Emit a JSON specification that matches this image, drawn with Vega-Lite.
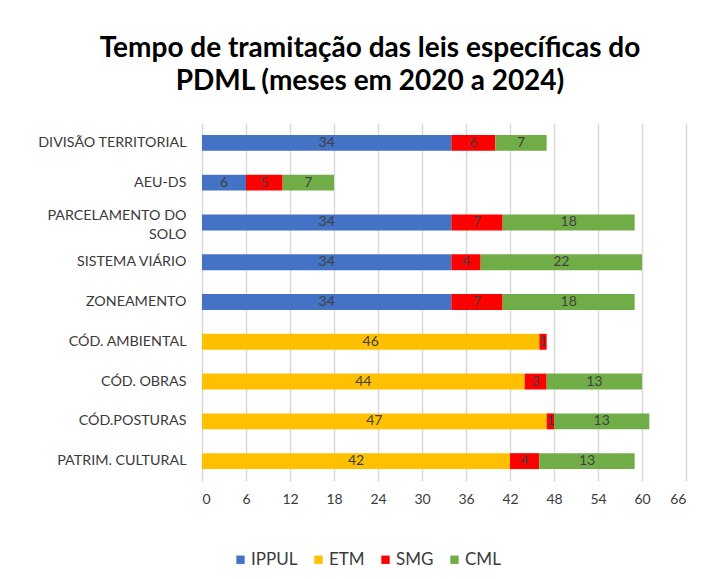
{
  "$schema": "https://vega.github.io/schema/vega-lite/v6.json",
  "autosize": {"type": "none"},
  "width": 484,
  "height": 358,
  "padding": {"left": 202, "top": 123, "right": 17, "bottom": 98},
  "background": "white",
  "config": {
    "font": "Lato",
    "view": {"stroke": null}
  },
  "title": {
    "text": ["Tempo de tramitação das leis específicas do", "PDML (meses em 2020 a 2024)"],
    "font": "Lato",
    "fontSize": 28,
    "fontWeight": "bold",
    "color": "#000000",
    "anchor": "middle",
    "dx": -74,
    "offset": 27,
    "lineHeight": 33
  },
  "data": {
    "values": [
      {"lei": "DIVISÃO TERRITORIAL", "orgao": "IPPUL", "ordem": 1, "meses": 34},
      {"lei": "DIVISÃO TERRITORIAL", "orgao": "SMG", "ordem": 3, "meses": 6},
      {"lei": "DIVISÃO TERRITORIAL", "orgao": "CML", "ordem": 4, "meses": 7},
      {"lei": "AEU-DS", "orgao": "IPPUL", "ordem": 1, "meses": 6},
      {"lei": "AEU-DS", "orgao": "SMG", "ordem": 3, "meses": 5},
      {"lei": "AEU-DS", "orgao": "CML", "ordem": 4, "meses": 7},
      {"lei": "PARCELAMENTO DO SOLO", "orgao": "IPPUL", "ordem": 1, "meses": 34},
      {"lei": "PARCELAMENTO DO SOLO", "orgao": "SMG", "ordem": 3, "meses": 7},
      {"lei": "PARCELAMENTO DO SOLO", "orgao": "CML", "ordem": 4, "meses": 18},
      {"lei": "SISTEMA VIÁRIO", "orgao": "IPPUL", "ordem": 1, "meses": 34},
      {"lei": "SISTEMA VIÁRIO", "orgao": "SMG", "ordem": 3, "meses": 4},
      {"lei": "SISTEMA VIÁRIO", "orgao": "CML", "ordem": 4, "meses": 22},
      {"lei": "ZONEAMENTO", "orgao": "IPPUL", "ordem": 1, "meses": 34},
      {"lei": "ZONEAMENTO", "orgao": "SMG", "ordem": 3, "meses": 7},
      {"lei": "ZONEAMENTO", "orgao": "CML", "ordem": 4, "meses": 18},
      {"lei": "CÓD. AMBIENTAL", "orgao": "ETM", "ordem": 2, "meses": 46},
      {"lei": "CÓD. AMBIENTAL", "orgao": "SMG", "ordem": 3, "meses": 1},
      {"lei": "CÓD. OBRAS", "orgao": "ETM", "ordem": 2, "meses": 44},
      {"lei": "CÓD. OBRAS", "orgao": "SMG", "ordem": 3, "meses": 3},
      {"lei": "CÓD. OBRAS", "orgao": "CML", "ordem": 4, "meses": 13},
      {"lei": "CÓD.POSTURAS", "orgao": "ETM", "ordem": 2, "meses": 47},
      {"lei": "CÓD.POSTURAS", "orgao": "SMG", "ordem": 3, "meses": 1},
      {"lei": "CÓD.POSTURAS", "orgao": "CML", "ordem": 4, "meses": 13},
      {"lei": "PATRIM. CULTURAL", "orgao": "ETM", "ordem": 2, "meses": 42},
      {"lei": "PATRIM. CULTURAL", "orgao": "SMG", "ordem": 3, "meses": 4},
      {"lei": "PATRIM. CULTURAL", "orgao": "CML", "ordem": 4, "meses": 13}
    ]
  },
  "transform": [
    {"stack": "meses", "groupby": ["lei"], "sort": [{"field": "ordem", "order": "ascending"}], "as": ["x0", "x1"]},
    {"calculate": "(datum.x0 + datum.x1) / 2", "as": "xm"}
  ],
  "encoding": {
    "y": {
      "field": "lei",
      "type": "nominal",
      "sort": ["DIVISÃO TERRITORIAL", "AEU-DS", "PARCELAMENTO DO SOLO", "SISTEMA VIÁRIO", "ZONEAMENTO", "CÓD. AMBIENTAL", "CÓD. OBRAS", "CÓD.POSTURAS", "PATRIM. CULTURAL"],
      "scale": {"paddingInner": 0.6, "paddingOuter": 0.3},
      "axis": {
        "title": null,
        "domain": false,
        "ticks": false,
        "labelFont": "Lato",
        "labelFontSize": 14.3,
        "labelColor": "#3a3a3a",
        "labelPadding": 16,
        "labelLimit": 220,
        "labelLineHeight": 19,
        "labelOffset": {"condition": {"test": "datum.label == 'PARCELAMENTO DO SOLO'", "value": -6}, "value": 0},
        "labelExpr": "datum.label == 'PARCELAMENTO DO SOLO' ? ['PARCELAMENTO DO', 'SOLO\u00a0\u00a0\u00a0\u00a0\u00a0\u00a0\u00a0\u00a0\u00a0\u00a0\u00a0\u00a0\u00a0\u00a0'] : datum.label"
      }
    }
  },
  "layer": [
    {
      "mark": {"type": "bar"},
      "encoding": {
        "x": {
          "field": "x0",
          "type": "quantitative",
          "scale": {"domain": [0, 66], "nice": false},
          "axis": {
            "title": null,
            "values": [0, 6, 12, 18, 24, 30, 36, 42, 48, 54, 60, 66],
            "domain": false,
            "ticks": false,
            "grid": true,
            "gridColor": "#d9d9d9",
            "gridWidth": 1.5,
            "labelFont": "Lato",
            "labelFontSize": 14,
            "labelColor": "#3a3a3a",
            "labelPadding": 11
          }
        },
        "x2": {"field": "x1"},
        "color": {
          "field": "orgao",
          "type": "nominal",
          "scale": {
            "domain": ["IPPUL", "ETM", "SMG", "CML"],
            "range": ["#4472C4", "#FFC000", "#FF0000", "#70AD47"]
          },
          "legend": {
            "title": null,
            "orient": "none",
            "direction": "horizontal",
            "legendX": 30,
            "legendY": 428,
            "symbolType": "square",
            "symbolSize": 70,
            "symbolStrokeWidth": 0,
            "labelFont": "Lato",
            "labelFontSize": 17,
            "labelColor": "#3a3a3a",
            "columnPadding": 12,
            "labelOffset": 2
          }
        }
      }
    },
    {
      "mark": {"type": "text", "font": "Lato", "fontSize": 14, "color": "#404040", "baseline": "middle", "align": "center"},
      "encoding": {
        "x": {"field": "xm", "type": "quantitative"},
        "text": {"field": "meses", "type": "quantitative"}
      }
    }
  ]
}
